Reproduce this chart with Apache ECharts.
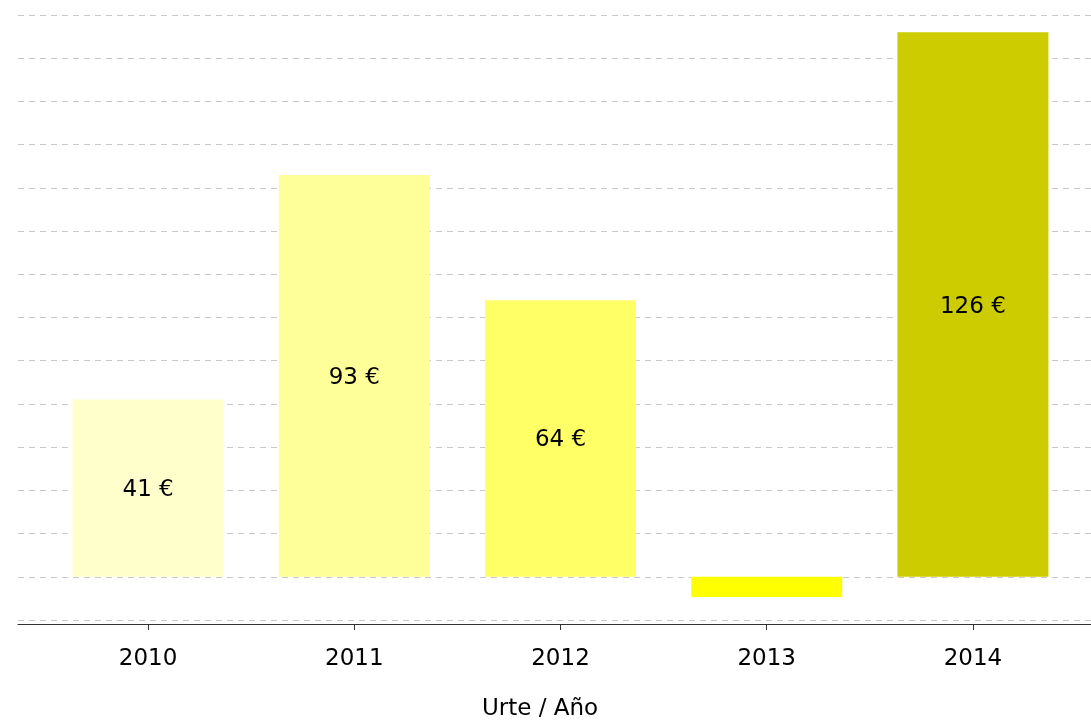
<!DOCTYPE html>
<html>
<head>
<meta charset="utf-8">
<style>html,body{margin:0;padding:0;background:#fff}#c{width:1091px;height:721px}</style>
<script src="https://cdn.jsdelivr.net/npm/echarts@6/dist/echarts.min.js"></script>
</head>
<body>
<div id="c"></div>
<script>
const categories = ['2010', '2011', '2012', '2013', '2014'];
const values = [41, 93, 64, -4.7, 126];
const barColors = ['#FFFFCC', '#FFFF99', '#FFFF66', '#FFFF00', '#CCCC00'];
const showLabel = [true, true, true, false, true];
const axisTitle = 'Urte / Año';

const chart = echarts.init(document.getElementById('c'));
const FONT = 'DejaVu Sans';
const FS = 23;
chart.setOption({
  animation: false,
  grid: [
    {left: 18, right: 0, top: 15, bottom: 101},
    {left: 45, right: 15, top: 15, bottom: 101}
  ],
  xAxis: [
    {gridIndex: 0, type: 'category', data: categories, offset: 4,
     axisLine: {show: true, onZero: false, lineStyle: {color: '#333', width: 1.2}},
     axisTick: {show: false}, axisLabel: {show: false}, splitLine: {show: false}},
    {gridIndex: 1, type: 'category', data: categories, offset: 4,
     axisLine: {show: true, onZero: false, lineStyle: {color: '#333', width: 1.2}},
     axisTick: {show: true, alignWithLabel: true, length: 6, lineStyle: {color: '#333'}},
     axisLabel: {color: '#000', fontFamily: FONT, fontSize: FS, margin: 24}}
  ],
  yAxis: [
    {gridIndex: 0, type: 'value', min: -10, max: 130, interval: 10,
     axisLine: {show: false}, axisTick: {show: false}, axisLabel: {show: false},
     splitLine: {show: true, lineStyle: {color: '#c8c8c8', type: [6, 5], width: 1}}},
    {gridIndex: 1, type: 'value', min: -10, max: 130, interval: 10,
     axisLine: {show: false}, axisTick: {show: false}, axisLabel: {show: false},
     splitLine: {show: false}}
  ],
  graphic: [{
    type: 'text', x: 540, y: 709,
    style: {text: axisTitle, fill: '#000', font: FS + 'px "DejaVu Sans"', textAlign: 'center', textVerticalAlign: 'middle'}
  }],
  series: [{
    type: 'bar', xAxisIndex: 1, yAxisIndex: 1, barWidth: 151,
    data: values.map((v, i) => ({
      value: v,
      itemStyle: {color: barColors[i]},
      label: {show: showLabel[i]}
    })),
    label: {position: 'inside', offset: [0, 2], color: '#000', fontFamily: FONT, fontSize: FS,
            formatter: p => p.value + ' €'}
  }]
});
</script>
</body>
</html>
